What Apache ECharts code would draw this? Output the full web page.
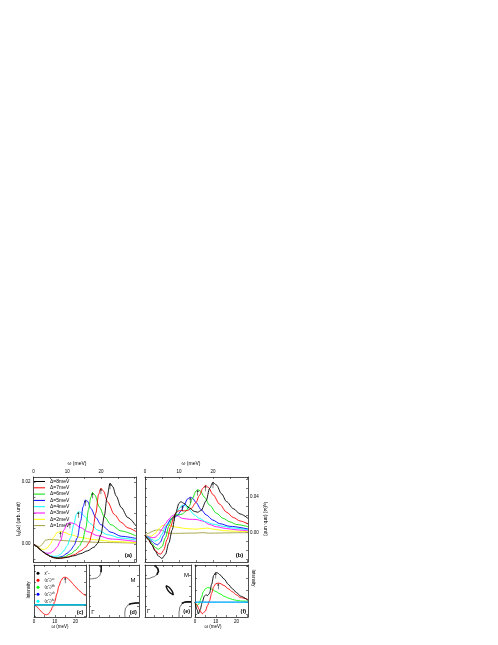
<!DOCTYPE html>
<html><head><meta charset="utf-8">
<script src="https://cdn.jsdelivr.net/npm/echarts/dist/echarts.min.js"></script>
<style>html,body{margin:0;padding:0;background:#fff}#c{width:498px;height:645px}</style>
</head><body><div id="c"></div>
<script>
// ---------- DATA ----------
const deltaNames = ['Δ=8meV','Δ=7meV','Δ=6meV','Δ=5meV','Δ=4meV','Δ=3meV','Δ=2meV','Δ=1meV'];
const omegaTickLabels = [0, 10, 20];
const aYTickLabels = [0, 0.02];
const bYTickLabels = [0, 0.04];
const panelLabels = ['(a)','(b)','(c)','(d)','(e)','(f)'];
const bzLabels = ['Γ','M'];
const omegaTitle = 'ω (meV)';
const intensityTitle = 'Intensity';

// panel (a): [omega, I_N]
const a_d8 = [[0,0],[1,-0.0008],[2,-0.0018],[3,-0.0027],[4,-0.0034],[5,-0.004],[6,-0.0044],[7,-0.0046],[8,-0.0046],[10,-0.0043],[12,-0.0038],[14,-0.0031],[16,-0.0022],[18,-0.001],[19,0.0002],[20,0.003],[21,0.009],[21.8,0.015],[22.7,0.0196],[23.5,0.0185],[24.5,0.0155],[26,0.0118],[28,0.0085],[30.4,0.0058]];
const a_d7 = [[0,0],[1,-0.0008],[2,-0.0018],[3,-0.0027],[4,-0.0034],[5,-0.004],[6,-0.0044],[7,-0.0046],[8,-0.0046],[10,-0.0042],[12,-0.0035],[14,-0.0022],[15.5,-0.001],[16.5,0.0005],[17.5,0.004],[18.5,0.01],[19.3,0.016],[20,0.018],[20.8,0.017],[22,0.0135],[24,0.0095],[26,0.007],[28,0.0052],[30.4,0.004]];
const a_d6 = [[0,0],[1,-0.0008],[2,-0.0018],[3,-0.0027],[4,-0.0034],[5,-0.004],[6,-0.0044],[7,-0.0045],[9,-0.0042],[11,-0.0032],[12.5,-0.002],[13.5,-0.0008],[14.5,0.001],[15.5,0.005],[16.3,0.011],[17,0.015],[17.5,0.0166],[18.2,0.0158],[19.5,0.012],[21,0.0088],[23,0.0062],[26,0.0042],[30.4,0.0026]];
const a_d5 = [[0,0],[1,-0.0008],[2,-0.0018],[3,-0.0027],[4,-0.0034],[5,-0.004],[6,-0.0043],[7,-0.0044],[8.5,-0.004],[10,-0.003],[11,-0.002],[12,-0.0005],[13,0.002],[14,0.0075],[14.7,0.012],[15.4,0.0142],[16,0.0138],[17,0.0115],[18.5,0.0085],[20,0.0062],[23,0.0038],[26,0.0025],[30.4,0.0018]];
const a_d4 = [[0,0],[1,-0.0008],[2,-0.0017],[3,-0.0026],[4,-0.0033],[5,-0.0038],[6,-0.004],[7,-0.0039],[8,-0.0033],[9,-0.0022],[10,-0.0005],[11,0.002],[12,0.0065],[12.7,0.0095],[13.3,0.0104],[14,0.0102],[15,0.009],[17,0.0065],[19,0.0045],[22,0.003],[26,0.0019],[30.4,0.0013]];
const a_d3 = [[0,0],[1,-0.0008],[2,-0.0018],[3,-0.0026],[4,-0.003],[5,-0.0029],[6,-0.0022],[7,-0.001],[8,0.001],[9,0.0045],[10,0.0065],[10.8,0.0069],[12,0.0066],[14,0.0053],[16,0.004],[19,0.0027],[23,0.0016],[30.4,0.0008]];
const a_d2 = [[0,0],[1,-0.0008],[2,-0.0015],[3,-0.0018],[4,-0.0013],[5,0],[6,0.0022],[7,0.0037],[8,0.004],[9,0.0038],[11,0.003],[14,0.0021],[18,0.0014],[24,0.0008],[30.4,0.0004]];
const a_d1 = [[0,0],[1,-0.0006],[1.8,-0.0009],[2.5,-0.0002],[3.5,0.0012],[4.7,0.0015],[6,0.0014],[9,0.0011],[13,0.0008],[20,0.0005],[30.4,0.0003]];
const aPeaks = [[22.7,0.0196],[20,0.018],[17.5,0.0166],[15.4,0.0142],[13.3,0.0104],[10.8,0.0069],[8,0.004]];

// panel (b)
const b_d8 = [[0,-0.003],[1,-0.008],[2,-0.014],[3,-0.021],[4,-0.027],[5,-0.0295],[6,-0.025],[7,-0.012],[8,0.003],[9,0.022],[10,0.033],[10.5,0.035],[11.5,0.033],[13,0.028],[14.5,0.024],[15.5,0.023],[16.5,0.025],[18,0.036],[19,0.05],[20,0.057],[21,0.054],[22.5,0.044],[24,0.035],[26,0.027],[28,0.021],[30.3,0.016]];
const b_d7 = [[0,-0.003],[1,-0.008],[2,-0.014],[3,-0.02],[4,-0.024],[4.7,-0.0245],[5.5,-0.02],[6.5,-0.008],[7.5,0.006],[8.5,0.018],[9.5,0.024],[10.5,0.025],[11.5,0.0245],[12.5,0.025],[13.5,0.027],[15,0.034],[16,0.042],[17,0.05],[17.8,0.0535],[18.7,0.051],[20,0.043],[22,0.032],[24,0.023],[26,0.017],[28,0.013],[30.3,0.0097]];
const b_d6 = [[0,-0.003],[1,-0.007],[2,-0.012],[3,-0.017],[4,-0.019],[5,-0.016],[6,-0.006],[7,0.007],[8,0.017],[9,0.02],[10,0.02],[11,0.021],[12,0.024],[13,0.03],[14,0.039],[15,0.047],[15.5,0.0486],[16.3,0.047],[17.5,0.04],[19,0.031],[21,0.022],[23,0.016],[25,0.012],[27,0.009],[30.3,0.0066]];
const b_d5 = [[0,-0.003],[1,-0.006],[2,-0.01],[3,-0.013],[3.7,-0.014],[4.5,-0.011],[5.5,-0.003],[6.5,0.008],[7.5,0.015],[8.5,0.017],[9.5,0.019],[10.5,0.024],[11.5,0.031],[12.5,0.038],[13.3,0.04],[14,0.039],[15,0.034],[16.5,0.026],[18,0.02],[20,0.014],[22,0.01],[25,0.007],[30.3,0.004]];
const b_d4 = [[0,-0.003],[1,-0.005],[2,-0.008],[3,-0.0098],[4,-0.008],[5,-0.002],[6,0.007],[7,0.012],[8,0.015],[9,0.02],[10,0.027],[11,0.031],[11.8,0.0305],[13,0.026],[14.5,0.02],[16,0.016],[18,0.012],[20,0.0095],[23,0.007],[26,0.005],[30.3,0.003]];
const b_d3 = [[0,-0.003],[1,-0.0045],[2,-0.006],[3,-0.0055],[4,-0.002],[5,0.004],[6,0.01],[7,0.015],[8,0.019],[8.7,0.02],[9.5,0.019],[11,0.016],[13,0.015],[15,0.0148],[17,0.013],[19,0.009],[21,0.0065],[24,0.0045],[27,0.003],[30.3,0.002]];
const b_d2 = [[0,-0.003],[1,-0.004],[1.8,-0.0042],[3,-0.001],[4,0.004],[5,0.0075],[6,0.0086],[7,0.008],[9,0.0062],[11,0.005],[13,0.0042],[15,0.0038],[17,0.0045],[18.5,0.005],[20,0.0038],[23,0.0022],[26,0.0015],[30.3,0.001]];
const b_d1 = [[0,-0.003],[1,-0.001],[2,0.001],[3,0.0025],[4,0.003],[5,0.0025],[6,0.0005],[7,-0.0008],[9,-0.001],[12,-0.0008],[15,-0.0006],[17,-0.0002],[19,-0.0008],[22,-0.0006],[26,-0.0003],[30.3,-0.0002]];
const bPeaks = [[20,0.057],[17.8,0.0535],[15.5,0.0486],[13.3,0.04],[11,0.031],[8.7,0.02]];

// panel (c)
const cNames = ['χ″₀','(χ″ₛ)ᵉᵉ','(χ″ₛ)ʰʰ','(χ″ₛ)ᵉʰ','(χ″ₛ)ʰᵉ'];
const c_red = [[0,0],[1,-0.04],[2,-0.12],[3,-0.2],[4,-0.28],[5,-0.34],[6,-0.36],[7,-0.33],[8,-0.22],[9,-0.07],[10,0.12],[11,0.4],[12,0.68],[13,0.88],[14,0.98],[15,1.0],[16,0.97],[17,0.9],[18,0.82],[19,0.73],[20,0.65],[21,0.57],[22,0.5],[23,0.43],[24,0.37],[25,0.32]];
const c_zero = [[0,0],[25,0]];
const cPeaks = [[15,1.0]];

// panel (f)
const f_black = [[0,0],[1,-0.25],[1.6,-0.4],[2.5,-0.25],[3.5,0],[4.5,0.2],[5.2,0.25],[6,0.22],[7,0.3],[8,0.6],[9,0.9],[10,1.0],[11,0.98],[12,0.92],[14,0.78],[16,0.6],[18,0.45],[20,0.32],[22,0.2],[25.5,0.06]];
const f_red = [[0,0],[1,-0.1],[2,-0.25],[3.5,-0.39],[5,-0.3],[6,-0.12],[7,0.05],[8,0.3],[9,0.52],[10,0.62],[11.2,0.64],[12,0.63],[14,0.56],[16,0.45],[18,0.35],[20,0.24],[22,0.15],[25.5,0.09]];
const f_green = [[0,0],[1,-0.12],[2,-0.05],[3,0.15],[4,0.35],[5,0.45],[6,0.49],[7,0.48],[8,0.44],[10,0.36],[12,0.28],[14,0.2],[16,0.14],[18,0.09],[20,0.06],[22,0.04],[25.5,0.03]];
const f_zero = [[0,0],[25.5,0]];
const fPeaks = [[10,1.0],[11.2,0.64]];

// panels (d),(e): Fermi-surface contours in BZ (Γ=(0,0), M=(1,1))
const d_tl = [[0.24,1],[0.245,0.93],[0.24,0.86],[0.21,0.79],[0.15,0.75],[0.07,0.735],[0,0.73]];
const d_tlBold = [[0.24,1],[0.245,0.93],[0.24,0.86]];
const d_br = [[0.72,0],[0.715,0.08],[0.73,0.17],[0.78,0.23],[0.86,0.26],[0.94,0.27],[1,0.27]];
const d_brBold = [[0.8,0.24],[0.86,0.26],[0.94,0.27],[1,0.27]];
const e_tl = [[0.22,1],[0.27,0.94],[0.29,0.87],[0.26,0.81],[0.18,0.77],[0.08,0.74],[0,0.73]];
const e_tlBold = [[0.22,1],[0.27,0.94],[0.29,0.87],[0.26,0.81]];
const e_br = [[0.74,0],[0.74,0.1],[0.76,0.2],[0.82,0.27],[0.9,0.29],[1,0.29]];
const e_brBold = [[0.8,0.26],[0.9,0.29],[1,0.29]];
const e_mid = [[0.457,0.604],[0.515,0.576],[0.558,0.536],[0.594,0.488],[0.615,0.428],[0.558,0.456],[0.514,0.496],[0.479,0.544],[0.457,0.604]];

// ---------- STYLE / LAYOUT ----------
const FONT = '"Liberation Sans", Arial, sans-serif';
const AX = '#222';
const deltaColors = ['#000000','#ff0000','#00e000','#0000ff','#00ffff','#ff00ff','#ffff00','#a0a040'];
const cColors = ['#000000','#ff0000','#00ff00','#0000ff','#00ffff'];
const ARROW = 'path://M5,0 L10,6 L6.2,6 L6.2,16 L3.8,16 L3.8,6 L0,6 Z';

const grids = [
  {left:33.5, top:477, width:102.5, height:85},
  {left:145, top:477, width:103, height:85},
  {left:34, top:565, width:52, height:52},
  {left:89, top:565, width:50, height:52},
  {left:145, top:565, width:46, height:52},
  {left:195, top:565, width:53, height:52}
];

const xAxes = [], yAxes = [];
function mkAxis(gridIndex, position, min, max, ticks, labels, fmt, margin) {
  return {
    type:'value', gridIndex, position, min, max,
    axisLine:{show:true, onZero:false, lineStyle:{color:AX, width:0.8}},
    axisTick:{show:true, inside:true, length:2, customValues:ticks, lineStyle:{color:AX, width:0.6}},
    axisLabel: labels ? {show:true, customValues:labels, formatter:fmt, fontSize:4.5, color:'#000', fontFamily:FONT, margin:margin} : {show:false},
    splitLine:{show:false}
  };
}
const fx0 = v => String(v);
const fy2 = v => v.toFixed(2);
const aX = [0,5,10,15,20,25,30];
const aYT = [-0.005,0,0.005,0.01,0.015,0.02];
const bYT = [-0.03,-0.02,-0.01,0,0.01,0.02,0.03,0.04,0.05,0.06];
const cX = [0,5,10,15,20,25];
const cYT = [-0.4,0,0.4,0.8,1.2];
const bzT = [0.2,0.4,0.6,0.8];

// (a)
xAxes.push(mkAxis(0,'top',0,30.4,aX,omegaTickLabels,fx0,3));
xAxes.push(mkAxis(0,'bottom',0,30.4,aX));
yAxes.push(mkAxis(0,'left',-0.0058,0.0216,aYT,aYTickLabels,fy2,3));
yAxes.push(mkAxis(0,'right',-0.0058,0.0216,aYT));
// (b)
xAxes.push(mkAxis(1,'top',0,30.3,aX,omegaTickLabels,fx0,3));
xAxes.push(mkAxis(1,'bottom',0,30.3,aX));
yAxes.push(mkAxis(1,'left',-0.0335,0.063,bYT));
yAxes.push(mkAxis(1,'right',-0.0335,0.063,bYT,bYTickLabels,fy2,2));
// (c)
xAxes.push(mkAxis(2,'bottom',0,25,cX,omegaTickLabels,fx0,2));
xAxes.push(mkAxis(2,'top',0,25,cX));
yAxes.push(mkAxis(2,'left',-0.44,1.44,cYT));
yAxes.push(mkAxis(2,'right',-0.44,1.44,cYT));
// (d)
xAxes.push(mkAxis(3,'bottom',0,1,bzT));
xAxes.push(mkAxis(3,'top',0,1,bzT));
yAxes.push(mkAxis(3,'left',0,1,bzT));
yAxes.push(mkAxis(3,'right',0,1,bzT));
// (e)
xAxes.push(mkAxis(4,'bottom',0,1,bzT));
xAxes.push(mkAxis(4,'top',0,1,bzT));
yAxes.push(mkAxis(4,'left',0,1,bzT));
yAxes.push(mkAxis(4,'right',0,1,bzT));
// (f)
xAxes.push(mkAxis(5,'bottom',0,25.5,cX,omegaTickLabels,fx0,2));
xAxes.push(mkAxis(5,'top',0,25.5,cX));
yAxes.push(mkAxis(5,'left',-0.5,1.25,cYT));
yAxes.push(mkAxis(5,'right',-0.5,1.25,cYT));

function line(name, data, color, xi, yi, width, smooth) {
  return {type:'line', name, data, xAxisIndex:xi, yAxisIndex:yi, symbol:'none', showSymbol:false,
    smooth: smooth===undefined ? 0.3 : smooth, smoothMonotone:'x',
    lineStyle:{color, width: width||0.9}, itemStyle:{color}, silent:true, animation:false};
}
function arrows(data, xi, yi) {
  return {type:'scatter', data, xAxisIndex:xi, yAxisIndex:yi, symbol:ARROW, symbolSize:[2.4,6],
    symbolOffset:[0,'50%'], itemStyle:{color:'#000'}, silent:true, animation:false, z:5};
}

const series = [];
const aCurves = [a_d8,a_d7,a_d6,a_d5,a_d4,a_d3,a_d2,a_d1];
const bCurves = [b_d8,b_d7,b_d6,b_d5,b_d4,b_d3,b_d2,b_d1];
for (let i = 7; i >= 0; i--) series.push(line(deltaNames[i], aCurves[i], deltaColors[i], 0, 0));
for (let i = 7; i >= 0; i--) series.push(line(deltaNames[i], bCurves[i], deltaColors[i], 2, 3));
series.push(arrows(aPeaks, 0, 0));
series.push(arrows(bPeaks, 2, 3));
// (c)
series.push(line(cNames[1], c_red, cColors[1], 4, 4));
series.push(line(cNames[0], c_zero, cColors[0], 4, 4));
series.push(line(cNames[2], c_zero, cColors[2], 4, 4));
series.push(line(cNames[3], c_zero, cColors[3], 4, 4));
series.push(line(cNames[4], c_zero, cColors[4], 4, 4));
series.push(arrows(cPeaks, 4, 4));
// (d)
series.push(line('d1', d_tl, '#333', 6, 6, 0.7, 0.4));
series.push(line('d2', d_tlBold, '#111', 6, 6, 1.6, 0.4));
series.push(line('d3', d_br, '#333', 6, 6, 0.7, 0.4));
series.push(line('d4', d_brBold, '#111', 6, 6, 1.6, 0.4));
// (e)
series.push(line('e1', e_tl, '#333', 8, 8, 0.7, 0.4));
series.push(line('e2', e_tlBold, '#111', 8, 8, 1.6, 0.4));
series.push(line('e3', e_br, '#333', 8, 8, 0.7, 0.4));
series.push(line('e4', e_brBold, '#111', 8, 8, 1.6, 0.4));
series.push(Object.assign(line('e5', e_mid, '#111', 8, 8, 1.4, 0.5), {smoothMonotone:null}));
// (f)
series.push(line('f_g', f_green, '#00ff00', 10, 10));
series.push(line('f_r', f_red, '#ff0000', 10, 10));
series.push(line('f_k', f_black, '#000000', 10, 10));
series.push(line('f_b', f_zero, '#0000ff', 10, 10));
series.push(line('f_c', f_zero, '#00ffff', 10, 10));
series.push(arrows(fPeaks, 10, 10));

function txt(x, y, text, size, rot, bold, rich) {
  const el = {type:'text', x, y, rotation: rot||0, silent:true, z:100,
    style:{text, fontSize:size, fontFamily:FONT, fill:'#000', align:'center', verticalAlign:'middle', fontWeight: bold?'bold':'normal'}};
  if (rich) el.style.rich = rich;
  return el;
}
const yTitleRich = {a:{fontSize:5, fontFamily:FONT}, b:{fontSize:3.5, fontFamily:FONT, padding:[2,0,0,0]}};
const yTitle = '{a|I}{b|N}{a|(ω) (arb. unit)}';

const graphic = [
  txt(77, 464, omegaTitle, 5),
  txt(191, 464, omegaTitle, 5),
  txt(60, 627, omegaTitle, 4.5),
  txt(213, 627, omegaTitle, 4.5),
  txt(19, 519, yTitle, 5, Math.PI/2, false, yTitleRich),
  txt(265, 519, yTitle, 5, -Math.PI/2, false, yTitleRich),
  txt(28.5, 590, intensityTitle, 4.5, Math.PI/2),
  txt(253, 578, intensityTitle, 4.5, -Math.PI/2),
  txt(128.3, 555.7, panelLabels[0], 6, 0, true),
  txt(239.5, 555.7, panelLabels[1], 6, 0, true),
  txt(80, 612, panelLabels[2], 5.5, 0, true),
  txt(133.3, 612, panelLabels[3], 5.5, 0, true),
  txt(186.7, 611.5, panelLabels[4], 5.5, 0, true),
  txt(243.3, 611.5, panelLabels[5], 5.5, 0, true),
  txt(93, 612, bzLabels[0], 6),
  txt(148.7, 611.5, bzLabels[0], 6),
  txt(133, 580, bzLabels[1], 6),
  txt(186.5, 575, bzLabels[1], 6)
];

const option = {
  animation:false,
  backgroundColor:'#fff',
  grid: grids,
  xAxis: xAxes,
  yAxis: yAxes,
  legend: [
    {data: deltaNames, orient:'vertical', left:34, top:479, itemWidth:11, itemHeight:1, icon:'rect', itemGap:1.3, padding:0, selectedMode:false,
     textStyle:{fontSize:5, lineHeight:5, fontFamily:FONT, color:'#000'}},
    {data: cNames, orient:'vertical', left:36.5, top:571, itemWidth:3, itemHeight:3, icon:'circle', itemGap:2.5, padding:0, selectedMode:false,
     textStyle:{fontSize:4, lineHeight:4.5, fontFamily:FONT, color:'#000'}}
  ],
  series,
  graphic
};
const chart = echarts.init(document.getElementById('c'));
chart.setOption(option);
</script></body></html>
